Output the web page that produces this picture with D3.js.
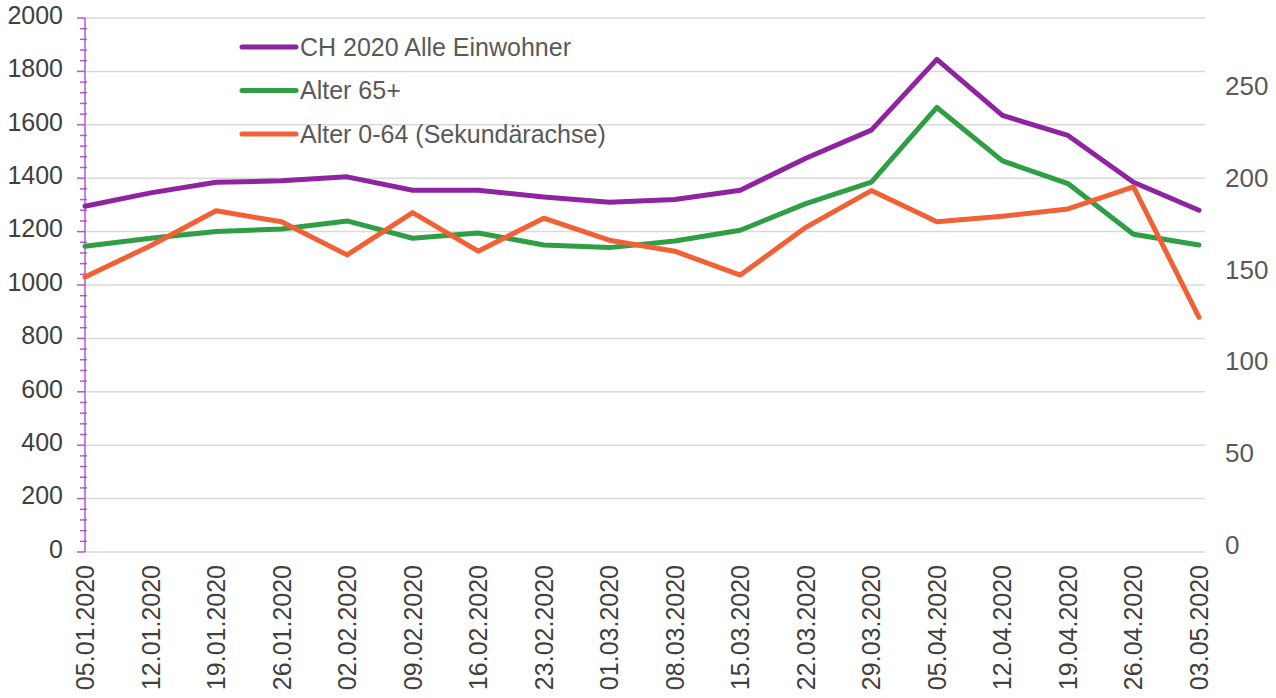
<!DOCTYPE html>
<meta charset="utf-8">
<script src="https://d3js.org/d3.v7.min.js"></script>
<style>
  body { margin: 0; background: #fff; }
  text { font-family: "Liberation Sans", Arial, sans-serif; }
</style>
<body>
<div id="chart"></div>
<script>

// data
var dates = ["05.01.2020","12.01.2020","19.01.2020","26.01.2020","02.02.2020","09.02.2020",
             "16.02.2020","23.02.2020","01.03.2020","08.03.2020","15.03.2020","22.03.2020",
             "29.03.2020","05.04.2020","12.04.2020","19.04.2020","26.04.2020","03.05.2020"]
var alle    = [1295,1345,1385,1390,1405,1355,1355,1330,1310,1320,1355,1475,1580,1845,1635,1560,1385,1280]
var alter65 = [1145,1175,1200,1210,1240,1175,1195,1150,1140,1165,1205,1305,1385,1665,1465,1380,1190,1150]
var alter064 = [146,163,182,176,158,181,160,178,166,160,147,173,193,176,179,183,195,124]  // secondary axis
var leftTicks = [0,200,400,600,800,1000,1200,1400,1600,1800,2000]
var rightTicks = [0,50,100,150,200,250]
var seriesNames = ["CH 2020 Alle Einwohner", "Alter 65+", "Alter 0-64 (Sekundärachse)"]
var colors = ["#8e24a0", "#2f9e44", "#f26135"]

var W = 1276, H = 698
var m = {left: 85, right: 1199, top: 18, bottom: 552}

var svg = d3.select("#chart").append("svg")
  .attr("width", W).attr("height", H)

var x = d3.scalePoint().domain(dates).range([m.left, m.right])
var y = d3.scaleLinear().domain([0, 2000]).range([m.bottom, m.top])
var yR = d3.scaleLinear().domain([0, 287]).range([545, m.top])

// gridlines
svg.append("g").selectAll("line")
  .data(leftTicks).enter().append("line")
    .attr("x1", m.left).attr("x2", 1205)
    .attr("y1", function(d){ return y(d) }).attr("y2", function(d){ return y(d) })
    .attr("stroke", "#d9d9d9").attr("stroke-width", 1.5)

// left axis with minor ticks
var minor = d3.range(0, 2001, 40)
svg.append("g").selectAll("line")
  .data(minor).enter().append("line")
    .attr("x1", function(d){ return d % 200 == 0 ? m.left - 8 : m.left - 5 })
    .attr("x2", function(d){ return d % 200 == 0 ? m.left : m.left + 2 })
    .attr("y1", function(d){ return y(d) }).attr("y2", function(d){ return y(d) })
    .attr("stroke", "#b05cc8").attr("stroke-width", 1.5)
svg.append("line")
  .attr("x1", m.left).attr("x2", m.left).attr("y1", m.top).attr("y2", m.bottom)
  .attr("stroke", "#b05cc8").attr("stroke-width", 1.5)

svg.append("g").selectAll("text")
  .data(leftTicks).enter().append("text")
    .attr("x", 63).attr("y", function(d){ return y(d) - 3 })
    .attr("dy", "0.35em").attr("text-anchor", "end")
    .attr("font-size", 25).attr("fill", "#404040")
    .text(function(d){ return d })

// right axis labels
svg.append("g").selectAll("text")
  .data(rightTicks).enter().append("text")
    .attr("x", 1225).attr("y", function(d){ return yR(d) })
    .attr("dy", "0.35em")
    .attr("font-size", 26).attr("fill", "#595959")
    .text(function(d){ return d })

// x labels
svg.append("g").selectAll("text")
  .data(dates).enter().append("text")
    .attr("transform", function(d){ return "translate(" + (x(d) + 9) + ",565) rotate(-90)" })
    .attr("text-anchor", "end")
    .attr("font-size", 25).attr("fill", "#404040")
    .text(function(d){ return d })

// lines
var lineL = d3.line().x(function(d, i){ return x(dates[i]) }).y(function(d){ return y(d) })
var lineR = d3.line().x(function(d, i){ return x(dates[i]) }).y(function(d){ return yR(d) })

svg.append("path").attr("d", lineL(alter65))
  .attr("fill", "none").attr("stroke", colors[1]).attr("stroke-width", 5)
  .attr("stroke-linejoin", "round").attr("stroke-linecap", "round")
svg.append("path").attr("d", lineL(alle))
  .attr("fill", "none").attr("stroke", colors[0]).attr("stroke-width", 5)
  .attr("stroke-linejoin", "round").attr("stroke-linecap", "round")
svg.append("path").attr("d", lineR(alter064))
  .attr("fill", "none").attr("stroke", colors[2]).attr("stroke-width", 5)
  .attr("stroke-linejoin", "round").attr("stroke-linecap", "round")

// legend
var leg = svg.append("g").selectAll("g")
  .data(seriesNames).enter().append("g")
    .attr("transform", function(d, i){ return "translate(242," + (47 + i * 43.5) + ")" })
leg.append("line").attr("x1", 0).attr("x2", 54)
  .attr("stroke", function(d, i){ return colors[i] }).attr("stroke-width", 5)
  .attr("stroke-linecap", "round")
leg.append("text").attr("x", 58).attr("dy", "0.35em")
  .attr("font-size", 25).attr("fill", "#595959")
  .text(function(d){ return d })

</script>
</body>
